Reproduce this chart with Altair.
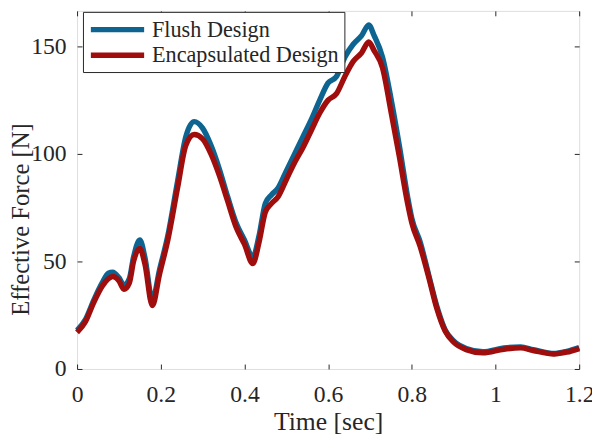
import altair as alt
import pandas as pd

# ---- data ----
time = [0, 0.02, 0.04, 0.06, 0.075, 0.085, 0.1, 0.112, 0.125, 0.135, 0.15, 0.162,
        0.18, 0.197, 0.217, 0.24, 0.26, 0.28, 0.30, 0.32, 0.34, 0.36, 0.38, 0.40,
        0.42, 0.435, 0.45, 0.465, 0.48, 0.50, 0.52, 0.54, 0.56, 0.58, 0.60, 0.62,
        0.64, 0.66, 0.68, 0.697, 0.71, 0.73, 0.75, 0.77, 0.79, 0.80, 0.82, 0.84,
        0.86, 0.88, 0.90, 0.93, 0.97, 1.02, 1.06, 1.09, 1.14, 1.17, 1.2]

flush = [18, 23, 32, 40, 44.5, 45, 42.5, 39, 42, 52, 60, 52,
         32, 46, 62, 87, 108, 115, 112, 104, 93, 80, 68, 60,
         52, 62, 77, 81, 84, 92, 100, 108, 116, 125, 133, 136,
         145, 151, 155, 160, 155, 145, 126, 104, 80, 70, 59, 44,
         29, 18, 13, 9.5, 8, 9.8, 10.2, 9, 7.2, 8.2, 10]

encaps = [17, 22, 31, 38.5, 42, 43, 41, 37, 40, 50, 56, 49,
          29.5, 44, 60, 84, 104, 109, 107, 100, 90, 78, 66, 58,
          49, 59, 73, 77, 80, 88, 96, 103, 111, 119, 125, 128,
          136, 143, 147, 152, 148, 140, 120, 99, 77, 68, 57, 43,
          28, 17.5, 12.5, 9, 7.5, 9.2, 9.8, 8.6, 7, 7.8, 9.5]

series = ["Flush Design", "Encapsulated Design"]
colors = ["#0d6490", "#a00d0d"]
x_ticks = [0, 0.2, 0.4, 0.6, 0.8, 1.0, 1.2]
y_ticks = [0, 50, 100, 150]

df_f = pd.DataFrame({"t": time, "v": flush, "s": series[0]})
df_e = pd.DataFrame({"t": time, "v": encaps, "s": series[1]})

FONT = "Liberation Serif"
TXT = "#262626"

xscale = alt.Scale(domain=[0, 1.2], nice=False, zero=False)
yscale = alt.Scale(domain=[0, 166.5], nice=False)
cscale = alt.Scale(domain=series, range=colors)

x_main = alt.X("t:Q", scale=xscale, axis=alt.Axis(
    values=x_ticks, format="~g", title="Time [sec]", grid=False, domain=False,
    tickSize={"expr": "-5"}, tickColor=TXT, labelFlush=False, labelOverlap=False,
    labelBaseline="alphabetic", labelPadding=38, labelFontSize=24, labelFont=FONT,
    labelColor=TXT, titleFont=FONT, titleFontSize=26, titleFontWeight="normal",
    titleColor=TXT, titleBaseline="alphabetic", titleY=61))
y_main = alt.Y("v:Q", scale=yscale, axis=alt.Axis(
    values=y_ticks, title="Effective Force [N]", grid=False, domain=False,
    tickSize={"expr": "-5"}, tickColor=TXT, labelOverlap=False,
    labelPadding=16, labelFontSize=24, labelFont=FONT, labelColor=TXT,
    titleFont=FONT, titleFontSize=25, titleFontWeight="normal", titleColor=TXT,
    titleBaseline="alphabetic", titleAngle=270, titleAlign="center",
    titleX=-49, titleY=211))

color = alt.Color("s:N", scale=cscale, legend=alt.Legend(
    title=None, orient="none", legendX=6, legendY=1,
    symbolType="M-1,0L4.4,0", symbolSize=400, symbolStrokeWidth=5.5,
    labelFont=FONT, labelFontSize=22.5, labelColor=TXT, labelOffset=39,
    padding=5, rowPadding=1, strokeColor=TXT, fillColor="white", labelLimit=400))

line_f = alt.Chart(df_f).mark_line(strokeWidth=5.5, interpolate="monotone").encode(
    x=x_main, y=y_main, color=color)
line_e = alt.Chart(df_e).mark_line(strokeWidth=5.5, interpolate="monotone").encode(
    x=alt.X("t:Q", scale=xscale, axis=None),
    y=alt.Y("v:Q", scale=yscale, axis=None),
    color=alt.Color("s:N", scale=cscale, legend=None))

frame = alt.Chart(df_f).mark_line(opacity=0).encode(
    x=alt.X("t:Q", scale=xscale, axis=alt.Axis(
        orient="top", values=x_ticks, labels=False, title=None, grid=False,
        domain=False, tickSize={"expr": "-5"}, tickColor=TXT)),
    y=alt.Y("v:Q", scale=yscale, axis=alt.Axis(
        orient="right", values=y_ticks, labels=False, title=None, grid=False,
        domain=False, tickSize={"expr": "-5"}, tickColor=TXT)))

chart = alt.layer(line_f, line_e, frame).resolve_axis(
    x="independent", y="independent"
).properties(
    width=509, height=363,
    autosize=alt.AutoSizeParams(type="none"),
    padding={"left": 70, "top": 0, "right": 13, "bottom": 64},
).configure_view(stroke=TXT, strokeWidth=1.2).configure(background="white")

chart.save("out.html", embed_options={"renderer": "svg", "actions": False})
